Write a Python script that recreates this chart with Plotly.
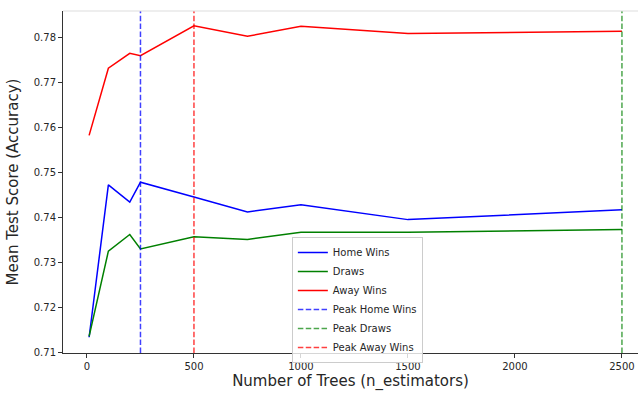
import plotly.graph_objects as go

n_estimators = [10, 100, 200, 250, 500, 750, 1000, 1500, 2500]
home_wins = [0.7134, 0.7472, 0.7434, 0.7478, 0.7445, 0.7412, 0.7428, 0.7395, 0.7417]
draws = [0.7136, 0.7325, 0.7362, 0.7330, 0.7357, 0.7351, 0.7367, 0.7367, 0.7373]
away_wins = [0.7582, 0.7731, 0.7764, 0.7759, 0.7825, 0.7802, 0.7824, 0.7808, 0.7813]

x_range = [-112, 2575]
y_range = [0.7099, 0.7858]

def peak_x(vals):
    i = max(range(len(vals)), key=lambda k: vals[k])
    return n_estimators[i]

fig = go.Figure()
series = [("Home Wins", home_wins, "#0000ff"),
          ("Draws", draws, "#008000"),
          ("Away Wins", away_wins, "#ff0000")]
for name, vals, col in series:
    fig.add_trace(go.Scatter(x=n_estimators, y=vals, mode="lines", name=name,
                             line=dict(color=col, width=1.5)))
peak_cols = {"Home Wins": "rgba(0,0,255,0.75)", "Draws": "rgba(0,128,0,0.7)",
             "Away Wins": "rgba(255,0,0,0.75)"}
for name, vals, col in series:
    px = peak_x(vals)
    fig.add_trace(go.Scatter(x=[px, px], y=y_range, mode="lines", name="Peak " + name,
                             line=dict(color=peak_cols[name], width=1.5, dash="5.5px,2.4px")))

fig.add_shape(type="line", xref="paper", yref="paper", x0=0, x1=1, y0=1, y1=1,
              line=dict(color="#dddddd", width=1))

fig.update_layout(
    width=638, height=394,
    margin=dict(l=63, r=0, t=11, b=41),
    paper_bgcolor="white", plot_bgcolor="white",
    font=dict(family="DejaVu Sans", color="#262626", size=10),
    showlegend=True,
    legend=dict(x=0.398, y=0.155, xanchor="left", yanchor="middle",
                bgcolor="rgba(255,255,255,0.8)", bordercolor="#cccccc", borderwidth=1,
                font=dict(size=10, color="#262626"), tracegroupgap=0),
    xaxis=dict(range=x_range, tickvals=[0, 500, 1000, 1500, 2000, 2500],
               showgrid=False, zeroline=False, showline=True, linecolor="#333333",
               linewidth=1, ticks="outside", ticklen=4, tickcolor="#333333",
               tickfont=dict(size=10),
               title=dict(text="Number of Trees (n_estimators)", font=dict(size=15), standoff=3)),
    yaxis=dict(range=y_range, tickvals=[0.71, 0.72, 0.73, 0.74, 0.75, 0.76, 0.77, 0.78],
               tickformat=".2f", showgrid=False, zeroline=False, showline=True,
               linecolor="#333333", linewidth=1, ticks="outside", ticklen=4,
               tickcolor="#333333", tickfont=dict(size=10),
               title=dict(text="Mean Test Score (Accuracy)", font=dict(size=15), standoff=11)),
)

fig.write_html("out.html", config={"displayModeBar": False},
               post_script="document.body.style.margin='0';document.body.style.overflow='hidden';")
